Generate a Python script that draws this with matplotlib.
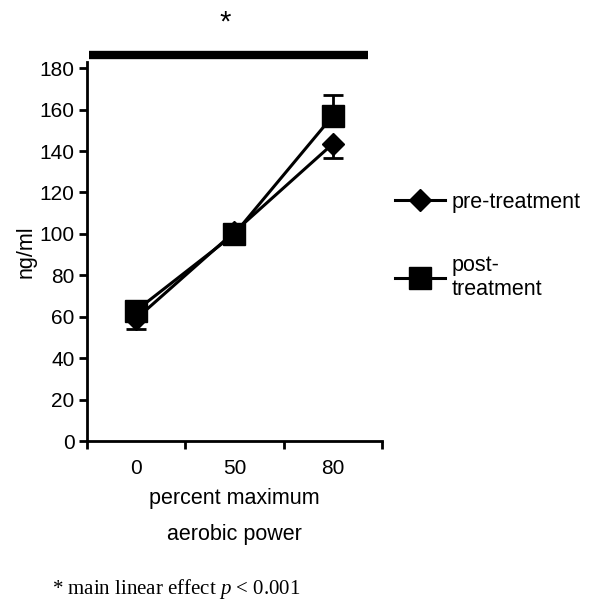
import matplotlib
matplotlib.use("Agg")
import matplotlib.pyplot as plt
from matplotlib.lines import Line2D
from matplotlib.transforms import blended_transform_factory

plt.rcParams['font.family'] = ['Liberation Sans', 'DejaVu Sans']
plt.rcParams['mathtext.fontset'] = 'custom'
plt.rcParams['mathtext.rm'] = 'Liberation Serif'
plt.rcParams['mathtext.it'] = 'Liberation Serif:italic'

categories = ["0", "50", "80"]
pre_values = [59, 101, 143.5]
pre_err_low = [5, 4, 7]
post_values = [63, 100, 157]
post_err_high = [4, 5, 10]
yticks = [0, 20, 40, 60, 80, 100, 120, 140, 160, 180]
legend_labels = ["pre-treatment", "post-\ntreatment"]
xlabel = "percent maximum\naerobic power"
ylabel = "ng/ml"
footnote = "* main linear effect $p$ < 0.001"

fig = plt.figure(figsize=(5.97, 6.01), dpi=100)
ax = fig.add_axes([0.1457, 0.2662, 0.4941, 0.6306])

x = list(range(len(categories)))
ax.errorbar(x, post_values, yerr=[[0]*3, post_err_high], color='black', lw=2.2,
            marker='s', markersize=16, capsize=7, capthick=2, elinewidth=2, zorder=3)
ax.errorbar(x, pre_values, yerr=[pre_err_low, [0]*3], color='black', lw=2.2,
            marker='D', markersize=11, capsize=7, capthick=2, elinewidth=2, zorder=4)

ax.set_xlim(-0.5, 2.5)
ax.set_ylim(0, 183)
ax.set_yticks(yticks)
ax.set_xticks([-0.5, 0.5, 1.5, 2.5])
ax.set_xticklabels([])
ax.set_xticks(x, minor=True)
ax.set_xticklabels(categories, minor=True, fontsize=15)
ax.tick_params(axis='x', which='minor', length=0, pad=13)
ax.tick_params(axis='x', which='major', length=6, width=2, direction='out')
ax.tick_params(axis='y', length=6, width=2, direction='out', labelsize=15, pad=3)
for s in ['top', 'right']:
    ax.spines[s].set_visible(False)
for s in ['left', 'bottom']:
    ax.spines[s].set_linewidth(2)

ax.set_xlabel(xlabel, fontsize=15.5, linespacing=1.95, labelpad=7)
ax.set_ylabel(ylabel, fontsize=15.5, labelpad=2)

# significance bar
tr = blended_transform_factory(ax.transData, ax.transAxes)
ax.plot([-0.48, 2.36], [1.0185, 1.0185], transform=tr, color='black', lw=6,
        solid_capstyle='butt', clip_on=False)
fig.text(0.377, 0.963, "*", fontsize=21, ha='center', va='center')

h_pre = Line2D([], [], color='black', lw=2.2, marker='D', markersize=11)
h_post = Line2D([], [], color='black', lw=2.2, marker='s', markersize=16)
leg = ax.legend([h_pre, h_post], legend_labels, loc='center left',
                bbox_to_anchor=(0.98, 0.515), frameon=False,
                fontsize=15.5, handlelength=2.3, labelspacing=1.93, handletextpad=0.3)

fig.text(0.087, 0.0, footnote, fontsize=15, family='Liberation Serif',
         ha='left', va='bottom')

fig.savefig("out.png", dpi=100)
